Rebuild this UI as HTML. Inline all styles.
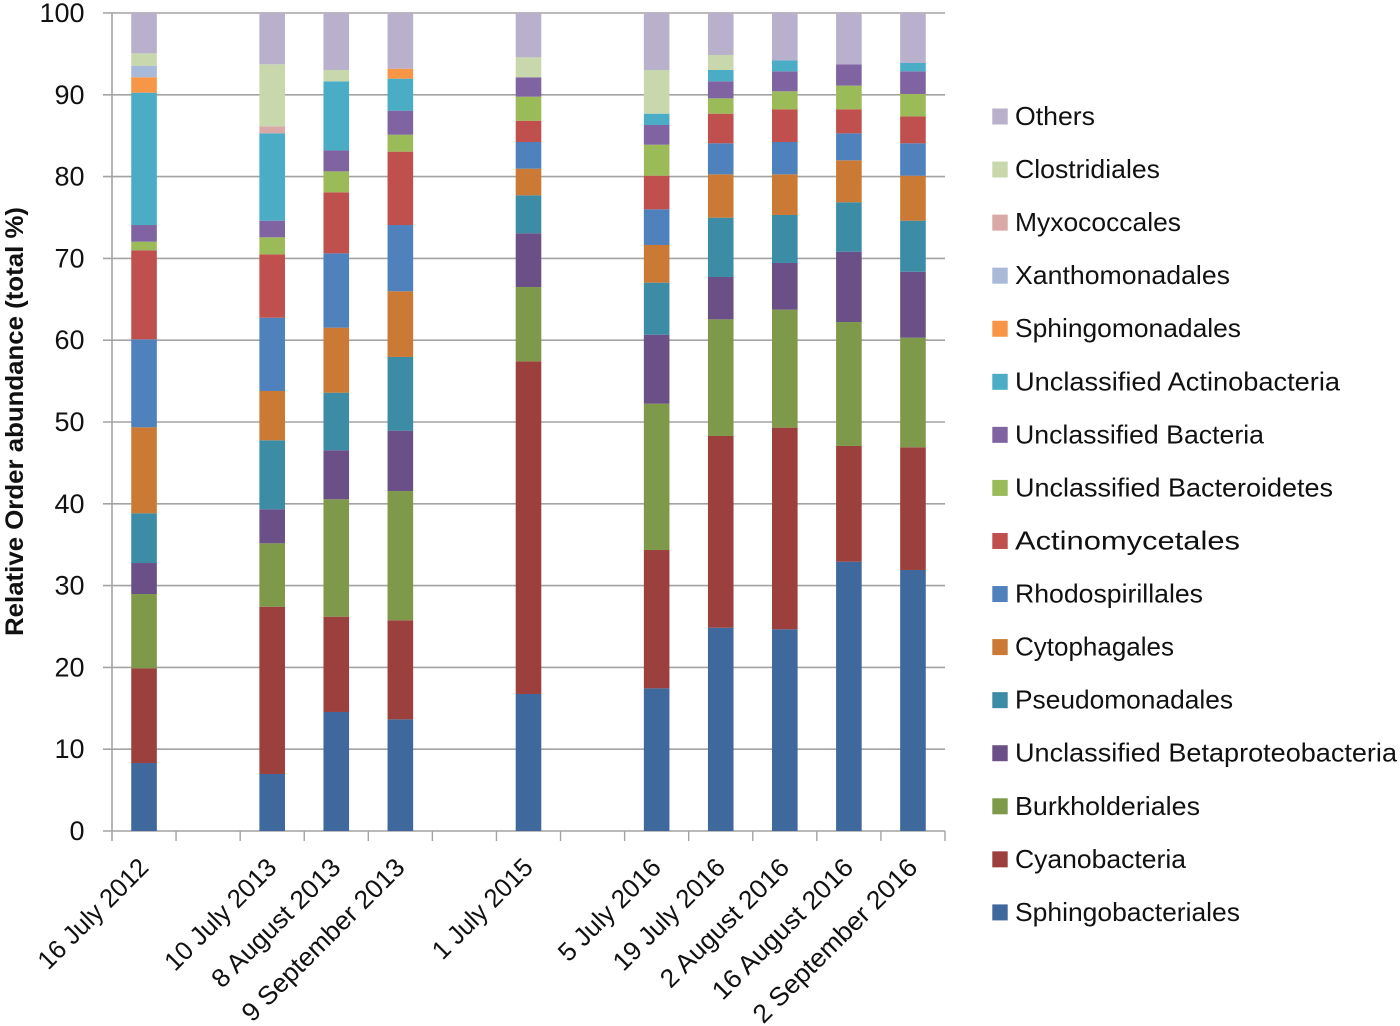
<!DOCTYPE html>
<html>
<head>
<meta charset="utf-8">
<title>Relative Order abundance</title>
<style>
html,body{margin:0;padding:0;background:#fff;width:1400px;height:1026px;overflow:hidden}
svg{display:block}
text{font-family:"Liberation Sans",sans-serif;fill:#111}
</style>
</head>
<body>
<svg id="chart" width="1400" height="1026" viewBox="0 0 1400 1026" xmlns="http://www.w3.org/2000/svg">
<text transform="translate(23,421.5) rotate(-90)" text-anchor="middle" font-size="25" font-weight="bold" textLength="429" lengthAdjust="spacingAndGlyphs">Relative Order abundance (total %)</text>
</svg>
<script>
// Categories (blank slots are dates with no sample)
const categories = ["16 July 2012","","10 July 2013","8 August 2013","9 September 2013","","1 July 2015","","5 July 2016","19 July 2016","2 August 2016","16 August 2016","2 September 2016"];
const yTickLabels = [0,10,20,30,40,50,60,70,80,90,100];

// Series values, bottom of the stack first
const sphingobacteriales = [8.31,0,6.97,14.55,13.65,0,16.75,0,17.44,24.85,24.66,32.92,31.91];
const cyanobacteria = [11.58,0,20.45,11.65,12.11,0,40.67,0,16.91,23.44,24.65,14.15,15.00];
const burkholderiales = [9.08,0,7.75,14.35,15.80,0,9.08,0,17.89,14.26,14.42,15.15,13.40];
const betaproteobacteria = [3.79,0,4.16,5.99,7.38,0,6.57,0,8.43,5.18,5.71,8.60,8.06];
const pseudomonadales = [6.08,0,8.43,7.04,9.01,0,4.64,0,6.36,7.25,5.87,6.04,6.24];
const cytophagales = [10.51,0,6.03,7.95,8.03,0,3.26,0,4.61,5.30,4.97,5.13,5.50];
const rhodospirillales = [10.76,0,8.96,9.09,8.10,0,3.26,0,4.36,3.79,3.95,3.30,3.96];
const actinomycetales = [10.88,0,7.75,7.46,8.97,0,2.60,0,4.11,3.62,4.00,2.94,3.30];
const bacteroidetes = [1.05,0,2.08,2.56,2.07,0,2.94,0,3.79,1.88,2.20,2.89,2.73];
const unclassifiedBacteria = [2.04,0,2.03,2.56,2.94,0,2.37,0,2.41,2.08,2.44,2.61,2.77];
const actinobacteria = [16.18,0,10.68,8.45,3.91,0,0,0,1.38,1.38,1.33,0,1.02];
const sphingomonadales = [1.88,0,0,0,1.22,0,0,0,0,0,0,0,0];
const xanthomonadales = [1.42,0,0,0,0,0,0,0,0,0,0,0,0];
const myxococcales = [0,0,0.85,0,0,0,0,0,0,0,0,0,0];
const clostridiales = [1.51,0,7.59,1.38,0,0,2.44,0,5.34,1.84,0,0,0];
const others = [4.93,0,6.27,6.97,6.81,0,5.42,0,6.97,5.13,5.80,6.27,6.11];

const seriesList = [
  {name:"Sphingobacteriales",values:sphingobacteriales,color:"#3F699D"},
  {name:"Cyanobacteria",values:cyanobacteria,color:"#9C403D"},
  {name:"Burkholderiales",values:burkholderiales,color:"#7F994A"},
  {name:"Unclassified Betaproteobacteria",values:betaproteobacteria,color:"#6A5086"},
  {name:"Pseudomonadales",values:pseudomonadales,color:"#3C8CA6"},
  {name:"Cytophagales",values:cytophagales,color:"#CA7A35"},
  {name:"Rhodospirillales",values:rhodospirillales,color:"#4F81BD"},
  {name:"Actinomycetales",values:actinomycetales,color:"#C0504D"},
  {name:"Unclassified Bacteroidetes",values:bacteroidetes,color:"#9BBB59"},
  {name:"Unclassified Bacteria",values:unclassifiedBacteria,color:"#8064A2"},
  {name:"Unclassified Actinobacteria",values:actinobacteria,color:"#4BACC6"},
  {name:"Sphingomonadales",values:sphingomonadales,color:"#F79646"},
  {name:"Xanthomonadales",values:xanthomonadales,color:"#A9B9D8"},
  {name:"Myxococcales",values:myxococcales,color:"#DAA8A7"},
  {name:"Clostridiales",values:clostridiales,color:"#C8D7AC"},
  {name:"Others",values:others,color:"#B9B0CB"}
];

// Text-fitting widths (Calibri metrics in the original)
const legendFit = {"Others":80,"Clostridiales":145,"Myxococcales":166,"Xanthomonadales":215,"Sphingomonadales":226,"Unclassified Actinobacteria":325,"Unclassified Bacteria":249,"Unclassified Bacteroidetes":318,"Actinomycetales":225,"Rhodospirillales":188,"Cytophagales":159,"Pseudomonadales":218,"Unclassified Betaproteobacteria":382,"Burkholderiales":185,"Cyanobacteria":171,"Sphingobacteriales":225};
const dateFit = {"16 July 2012":144,"10 July 2013":146,"8 August 2013":170,"9 September 2013":218,"1 July 2015":130,"5 July 2016":133,"19 July 2016":146,"2 August 2016":170,"16 August 2016":187,"2 September 2016":220};

const NS = "http://www.w3.org/2000/svg";
const svg = document.getElementById("chart");
const plotLeft = 112, plotRight = 945, plotTop = 13, plotBottom = 831, yMax = 100;
const barWidth = 25.6, gridColor = "#A3A3A3";

function yScale(v){ return plotBottom - (v / yMax) * (plotBottom - plotTop); }
function xSlot(i){ return plotLeft + i * (plotRight - plotLeft) / categories.length; }
function xCenter(i){ return xSlot(i + 0.5); }
function make(tag, attrs, parent){
  const el = document.createElementNS(NS, tag);
  for (const k in attrs) el.setAttribute(k, attrs[k]);
  (parent || svg).appendChild(el);
  return el;
}

// Gridlines and y ticks
yTickLabels.forEach(function(v){
  const line = make("line", {x1:plotLeft - 9, x2:plotRight, y1:yScale(v), y2:yScale(v), stroke:gridColor, "stroke-width":1.6});
  
  
  const label = make("text", {x:84.5, y:yScale(v) + 9, "text-anchor":"end", "font-size":27});
  
  
  label.textContent = v;
});

// Y axis line
const yAxisLine = make("line", {x1:plotLeft, x2:plotLeft, y1:plotTop, y2:plotBottom + 10, stroke:gridColor, "stroke-width":1.6});



// X ticks
for (let i = 1; i <= categories.length; i++){
  const tick = make("line", {x1:xSlot(i), x2:xSlot(i), y1:plotBottom, y2:plotBottom + 10, stroke:gridColor, "stroke-width":1.4});
  
  
}

// Stacked bars
categories.forEach(function(cat, i){
  let running = 0;
  seriesList.forEach(function(s){
    const v = s.values[i];
    if (!v) return;
    const top = yScale(running + v), bottom = yScale(running);
    const seg = make("rect", {x:xCenter(i) - barWidth / 2, y:top, width:barWidth, height:bottom - top, fill:s.color});
    
    
    running += v;
  });
});

// X labels
categories.forEach(function(cat, i){
  if (!cat) return;
  const x = xCenter(i) + 6, y = plotBottom + 38;
  const label = make("text", {transform:"translate(" + x + "," + y + ") rotate(-45)", "text-anchor":"end", "font-size":26, textLength:dateFit[cat], lengthAdjust:"spacingAndGlyphs"});
  
  
  label.textContent = cat;
});

// Legend (reverse stack order, top to bottom)
const legendTop = 116.5, legendStep = 53.06;
seriesList.slice().reverse().forEach(function(s, k){
  const cy = legendTop + k * legendStep;
  const g = make("g", {});
  
  
  const swatch = make("rect", {x:992.3, y:cy - 8, width:15.4, height:16, fill:s.color}, g);
  
  
  const text = make("text", {x:1015, y:cy + 8.5, "font-size":26, textLength:legendFit[s.name], lengthAdjust:"spacingAndGlyphs"}, g);
  
  
  text.textContent = s.name;
});
</script>
</body>
</html>
